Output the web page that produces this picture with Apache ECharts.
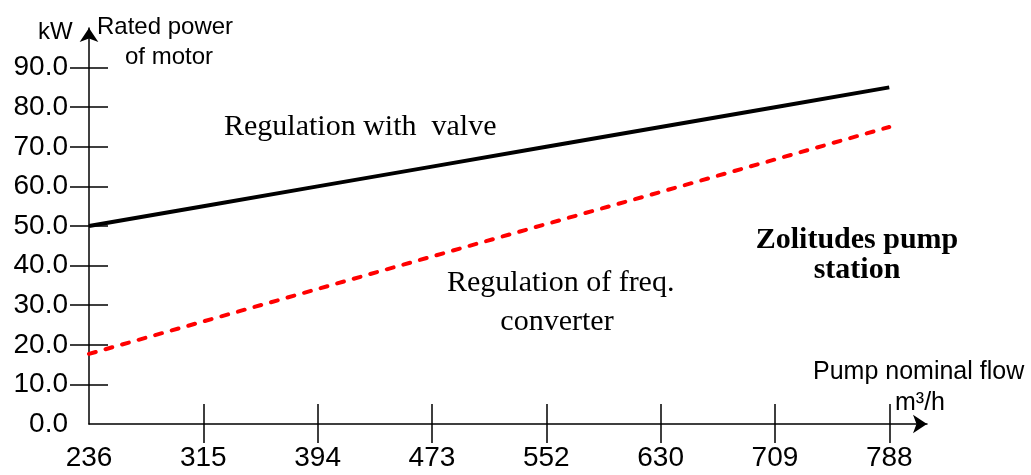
<!DOCTYPE html>
<html><head><meta charset="utf-8">
<script src="https://cdn.jsdelivr.net/npm/echarts@6/dist/echarts.min.js"></script>
<style>html,body{margin:0;padding:0;background:#fff}#c{width:1031px;height:475px}</style>
</head><body><div id="c"></div>
<script>
const flowLabels = ['236', '315', '394', '473', '552', '630', '709', '788'];
const valvePower = [50.0, 55.0, 60.0, 65.0, 70.0, 75.0, 80.0, 85.0];
const converterPower = [17.7, 25.9, 34.1, 42.3, 50.5, 58.6, 66.8, 75.0];
const yTickValues = [10, 20, 30, 40, 50, 60, 70, 80, 90];
const yLabelValues = [0, 10, 20, 30, 40, 50, 60, 70, 80, 90];

const xIdx = flowLabels.map((_, i) => i);
const xTickIdx = xIdx.slice(1);
const sans = '"Liberation Sans", Arial, sans-serif';
const serif = '"Liberation Serif", "Times New Roman", serif';

const chart = echarts.init(document.getElementById('c'), null, {renderer: 'canvas'});
chart.setOption({
  animation: false,
  backgroundColor: '#fff',
  grid: {left: 89, right: 104, top: 28, bottom: 51, containLabel: false},
  xAxis: [{
    type: 'value', min: 0, max: 7.33, interval: 1, position: 'bottom',
    axisLine: {show: true, symbol: ['none', 'arrow'], symbolSize: [14, 14], lineStyle: {color: '#000', width: 1.5}},
    axisTick: {show: true, inside: false, length: 19, customValues: xTickIdx, lineStyle: {color: '#000', width: 1.5}},
    axisLabel: {customValues: xIdx, formatter: v => flowLabels[Math.round(v)], color: '#000', fontSize: 28, fontFamily: sans, margin: 20},
    splitLine: {show: false}
  }, {
    type: 'value', min: 0, max: 7.33, interval: 1, position: 'bottom',
    axisLine: {show: false},
    axisTick: {show: true, inside: true, length: 20, customValues: xTickIdx, lineStyle: {color: '#000', width: 1.5}},
    axisLabel: {show: false},
    splitLine: {show: false}
  }],
  yAxis: [{
    type: 'value', min: 0, max: 100, interval: 10, position: 'left',
    axisLine: {show: true, symbol: ['none', 'arrow'], symbolSize: [14, 14], lineStyle: {color: '#000', width: 1.5}},
    axisTick: {show: true, inside: false, length: 19, customValues: yTickValues, lineStyle: {color: '#000', width: 1.5}},
    axisLabel: {customValues: yLabelValues, formatter: v => v.toFixed(1), color: '#000', fontSize: 28, fontFamily: sans, margin: 21},
    splitLine: {show: false}
  }, {
    type: 'value', min: 0, max: 100, interval: 10, position: 'left',
    axisLine: {show: false},
    axisTick: {show: true, inside: true, length: 19, customValues: yTickValues, lineStyle: {color: '#000', width: 1.5}},
    axisLabel: {show: false},
    splitLine: {show: false}
  }],
  series: [{
    name: 'Regulation with valve', type: 'line', xAxisIndex: 0, yAxisIndex: 0,
    data: xIdx.map(i => [i, valvePower[i]]),
    symbol: 'none', lineStyle: {color: '#000', width: 4}
  }, {
    name: 'Regulation of freq. converter', type: 'line', xAxisIndex: 0, yAxisIndex: 0,
    data: xIdx.map(i => [i, converterPower[i]]),
    symbol: 'none', lineStyle: {color: '#ff0000', width: 4, type: [7, 10.2], cap: 'round'}
  }],
  graphic: [
    {type: 'text', x: 38, y: 32, style: {text: 'kW', fill: '#000', font: '24px ' + sans, align: 'left', verticalAlign: 'middle'}},
    {type: 'text', x: 97, y: 27, style: {text: 'Rated power', fill: '#000', font: '24px ' + sans, align: 'left', verticalAlign: 'middle'}},
    {type: 'text', x: 169, y: 57, style: {text: 'of motor', fill: '#000', font: '24px ' + sans, align: 'center', verticalAlign: 'middle'}},
    {type: 'text', x: 813, y: 372, style: {text: 'Pump nominal flow', fill: '#000', font: '25px ' + sans, align: 'left', verticalAlign: 'middle'}},
    {type: 'text', x: 895, y: 403, style: {text: 'm³/h', fill: '#000', font: '25px ' + sans, align: 'left', verticalAlign: 'middle'}},
    {type: 'text', x: 224, y: 127, style: {text: 'Regulation with  valve', fill: '#000', font: '30px ' + serif, align: 'left', verticalAlign: 'middle'}},
    {type: 'text', x: 447, y: 283, style: {text: 'Regulation of freq.', fill: '#000', font: '30px ' + serif, align: 'left', verticalAlign: 'middle'}},
    {type: 'text', x: 557, y: 322, style: {text: 'converter', fill: '#000', font: '30px ' + serif, align: 'center', verticalAlign: 'middle'}},
    {type: 'text', x: 857, y: 240, style: {text: 'Zolitudes pump', fill: '#000', font: 'bold 30px ' + serif, align: 'center', verticalAlign: 'middle'}},
    {type: 'text', x: 857, y: 270, style: {text: 'station', fill: '#000', font: 'bold 30px ' + serif, align: 'center', verticalAlign: 'middle'}}
  ]
});
</script>
</body></html>
